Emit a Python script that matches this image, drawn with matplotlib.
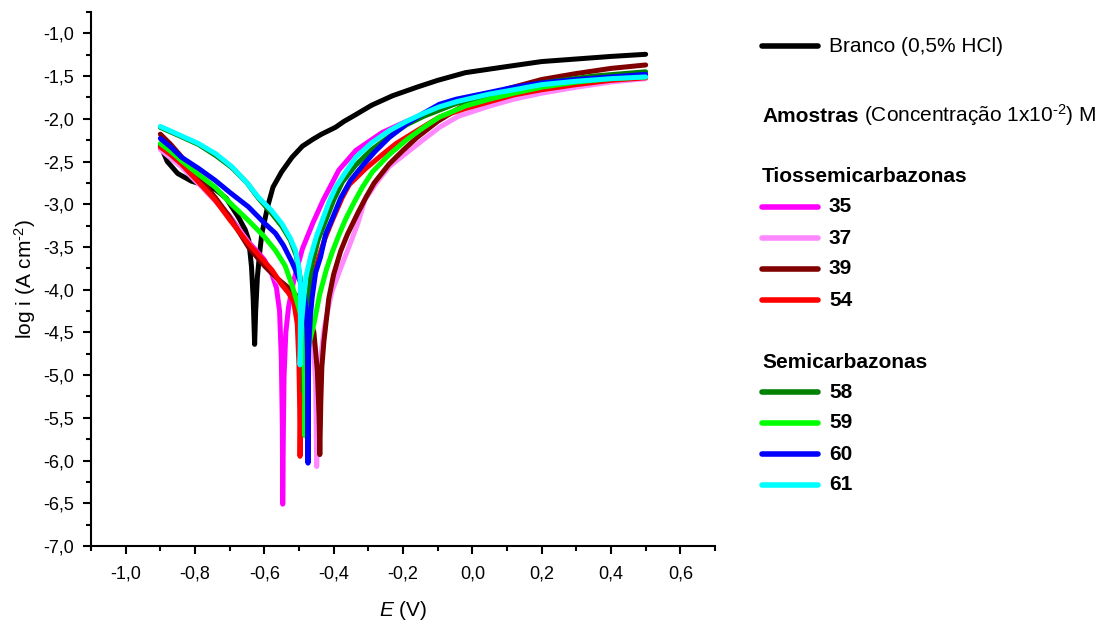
import matplotlib
matplotlib.use("Agg")
import matplotlib.pyplot as plt
from matplotlib.lines import Line2D
from matplotlib.ticker import MultipleLocator, FixedLocator

plt.rcParams['font.family'] = ['Liberation Sans', 'DejaVu Sans']
plt.rcParams['mathtext.fontset'] = 'custom'
plt.rcParams['mathtext.rm'] = 'Liberation Sans'
plt.rcParams['mathtext.it'] = 'Liberation Sans:italic'
plt.rcParams['mathtext.bf'] = 'Liberation Sans:bold'

# ---------------- data ----------------
E_branco = [-0.900, -0.880, -0.850, -0.810, -0.770, -0.740, -0.710, -0.675, -0.655, -0.645, -0.637, -0.632, -0.628,
            -0.625, -0.620, -0.613, -0.607, -0.590, -0.575, -0.550, -0.520, -0.490, -0.460, -0.435, -0.415, -0.395,
            -0.370, -0.340, -0.290, -0.230, -0.160, -0.100, -0.020, 0.080, 0.200, 0.300, 0.400, 0.500]
logi_branco = [-2.31, -2.50, -2.64, -2.73, -2.78, -2.83, -2.93, -3.15, -3.30, -3.42, -3.73, -4.12, -4.64,
               -4.25, -3.85, -3.55, -3.34, -3.02, -2.80, -2.62, -2.45, -2.32, -2.24, -2.18, -2.14, -2.10,
               -2.03, -1.96, -1.84, -1.73, -1.63, -1.55, -1.46, -1.40, -1.33, -1.30, -1.27, -1.245]

E_35 = [-0.900, -0.840, -0.780, -0.740, -0.700, -0.646, -0.600, -0.578, -0.565, -0.556, -0.551, -0.548, -0.547,
        -0.545, -0.543, -0.538, -0.530, -0.515, -0.490, -0.460, -0.430, -0.385, -0.336, -0.260, -0.190, -0.143,
        -0.046, 0.050, 0.200, 0.350, 0.500]
logi_35 = [-2.35, -2.55, -2.78, -2.96, -3.14, -3.44, -3.65, -3.82, -3.98, -4.25, -4.80, -5.60, -6.51,
           -5.60, -5.00, -4.50, -4.20, -3.89, -3.52, -3.22, -2.95, -2.60, -2.37, -2.16, -2.03, -1.95,
           -1.81, -1.72, -1.61, -1.55, -1.51]

E_37 = [-0.900, -0.840, -0.780, -0.740, -0.700, -0.646, -0.600, -0.560, -0.520, -0.490, -0.470, -0.458, -0.452,
        -0.449, -0.446, -0.443, -0.436, -0.428, -0.415, -0.404, -0.380, -0.356, -0.330, -0.310, -0.275, -0.240,
        -0.190, -0.143, -0.095, -0.040, 0.050, 0.120, 0.200, 0.300, 0.400, 0.500]
logi_37 = [-2.36, -2.56, -2.80, -2.97, -3.15, -3.45, -3.70, -3.90, -4.08, -4.22, -4.40, -4.65, -5.10,
           -6.07, -5.40, -5.06, -4.75, -4.47, -4.20, -4.01, -3.75, -3.50, -3.22, -2.95, -2.74, -2.56,
           -2.40, -2.25, -2.10, -1.97, -1.85, -1.77, -1.70, -1.63, -1.57, -1.53]

E_39 = [-0.900, -0.870, -0.840, -0.790, -0.740, -0.700, -0.646, -0.600, -0.568, -0.530, -0.500, -0.475, -0.457,
        -0.447, -0.442, -0.440, -0.437, -0.434, -0.428, -0.414, -0.400, -0.380, -0.360, -0.330, -0.307, -0.283,
        -0.240, -0.200, -0.160, -0.100, -0.040, 0.020, 0.100, 0.200, 0.300, 0.400, 0.500]
logi_39 = [-2.18, -2.30, -2.44, -2.68, -2.93, -3.15, -3.50, -3.72, -3.85, -3.98, -4.10, -4.25, -4.50,
           -4.95, -5.50, -5.93, -5.30, -4.90, -4.60, -4.10, -3.82, -3.55, -3.35, -3.10, -2.92, -2.75,
           -2.53, -2.37, -2.22, -2.03, -1.88, -1.76, -1.65, -1.54, -1.47, -1.41, -1.37]

E_54 = [-0.900, -0.870, -0.839, -0.790, -0.742, -0.700, -0.646, -0.600, -0.578, -0.550, -0.530, -0.515, -0.505,
        -0.500, -0.498, -0.497, -0.495, -0.492, -0.486, -0.472, -0.458, -0.443, -0.425, -0.404, -0.375, -0.355,
        -0.307, -0.260, -0.220, -0.160, -0.095, -0.020, 0.050, 0.120, 0.200, 0.300, 0.400, 0.500]
logi_54 = [-2.33, -2.42, -2.53, -2.74, -2.95, -3.18, -3.46, -3.67, -3.77, -3.94, -4.04, -4.15, -4.40,
           -4.90, -5.40, -5.95, -5.40, -5.00, -4.67, -4.09, -3.84, -3.62, -3.40, -3.19, -2.92, -2.77,
           -2.58, -2.42, -2.29, -2.14, -1.98, -1.88, -1.80, -1.72, -1.66, -1.60, -1.55, -1.52]

E_58 = [-0.900, -0.850, -0.790, -0.740, -0.694, -0.650, -0.617, -0.580, -0.549, -0.525, -0.508, -0.497, -0.490,
        -0.487, -0.486, -0.484, -0.480, -0.476, -0.462, -0.445, -0.423, -0.400, -0.375, -0.336, -0.290, -0.240,
        -0.190, -0.140, -0.046, 0.050, 0.200, 0.350, 0.500]
logi_58 = [-2.10, -2.19, -2.30, -2.43, -2.57, -2.75, -2.93, -3.10, -3.26, -3.42, -3.60, -3.85, -4.15,
           -4.60, -5.20, -4.70, -4.40, -4.20, -3.69, -3.42, -3.19, -2.95, -2.74, -2.54, -2.36, -2.21,
           -2.07, -1.97, -1.82, -1.72, -1.58, -1.50, -1.45]

E_59 = [-0.900, -0.870, -0.839, -0.790, -0.742, -0.700, -0.646, -0.600, -0.568, -0.540, -0.520, -0.505, -0.496,
        -0.490, -0.486, -0.484, -0.483, -0.481, -0.478, -0.470, -0.457, -0.440, -0.420, -0.404, -0.385, -0.365,
        -0.340, -0.317, -0.288, -0.240, -0.191, -0.140, -0.095, -0.020, 0.050, 0.120, 0.200, 0.300, 0.400, 0.500]
logi_59 = [-2.29, -2.38, -2.49, -2.65, -2.80, -2.98, -3.19, -3.38, -3.54, -3.72, -3.95, -4.15, -4.28,
           -4.45, -4.67, -5.10, -5.71, -5.20, -4.85, -4.62, -4.40, -4.05, -3.75, -3.56, -3.36, -3.17,
           -2.97, -2.80, -2.62, -2.42, -2.25, -2.10, -1.98, -1.85, -1.77, -1.70, -1.63, -1.57, -1.53, -1.51]

E_60 = [-0.900, -0.870, -0.839, -0.790, -0.742, -0.700, -0.646, -0.600, -0.568, -0.545, -0.530, -0.520, -0.505,
        -0.486, -0.478, -0.476, -0.475, -0.474, -0.473, -0.472, -0.467, -0.462, -0.452, -0.438, -0.423, -0.404,
        -0.380, -0.351, -0.317, -0.280, -0.240, -0.190, -0.143, -0.095, -0.046, 0.050, 0.120, 0.200, 0.300,
        0.400, 0.500]
logi_60 = [-2.23, -2.33, -2.45, -2.58, -2.72, -2.86, -3.03, -3.22, -3.34, -3.48, -3.60, -3.68, -3.82,
           -4.01, -4.30, -4.70, -5.30, -6.03, -5.30, -4.67, -4.30, -4.09, -3.80, -3.62, -3.35, -3.17,
           -2.93, -2.72, -2.55, -2.38, -2.22, -2.06, -1.94, -1.83, -1.77, -1.69, -1.63, -1.58, -1.54,
           -1.51, -1.48]

E_61 = [-0.900, -0.850, -0.790, -0.740, -0.694, -0.650, -0.617, -0.580, -0.549, -0.525, -0.510, -0.500, -0.496,
        -0.496, -0.497, -0.495, -0.493, -0.486, -0.480, -0.467, -0.450, -0.433, -0.414, -0.394, -0.365, -0.336,
        -0.290, -0.240, -0.190, -0.143, -0.095, -0.046, 0.050, 0.120, 0.200, 0.300, 0.400, 0.500]
logi_61 = [-2.09, -2.18, -2.29, -2.41, -2.56, -2.75, -2.92, -3.07, -3.23, -3.40, -3.54, -3.75, -3.93,
           -4.40, -4.88, -4.60, -4.40, -4.09, -3.85, -3.62, -3.38, -3.19, -2.98, -2.80, -2.62, -2.45,
           -2.28, -2.14, -2.03, -1.94, -1.86, -1.80, -1.71, -1.66, -1.60, -1.56, -1.53, -1.51]

legend_branco = "Branco (0,5% HCl)"
group_tio = "Tiossemicarbazonas"
group_semi = "Semicarbazonas"
labels_tio = ["35", "37", "39", "54"]
labels_semi = ["58", "59", "60", "61"]

x_ticks = [-1.0, -0.8, -0.6, -0.4, -0.2, 0.0, 0.2, 0.4, 0.6]
x_ticklabels = ["-1,0", "-0,8", "-0,6", "-0,4", "-0,2", "0,0", "0,2", "0,4", "0,6"]
y_ticks = [-7.0, -6.5, -6.0, -5.5, -5.0, -4.5, -4.0, -3.5, -3.0, -2.5, -2.0, -1.5, -1.0]
y_ticklabels = ["-7,0", "-6,5", "-6,0", "-5,5", "-5,0", "-4,5", "-4,0", "-3,5", "-3,0", "-2,5", "-2,0",
                "-1,5", "-1,0"]

# ---------------- styles ----------------
c_branco = "#000000"
colors_tio = ["#FF00FF", "#FF88FF", "#800000", "#FF0000"]
colors_semi = ["#008000", "#00FF00", "#0000FF", "#00FFFF"]

W, H = 1115, 628
fig = plt.figure(figsize=(W / 100, H / 100), dpi=100)
ax = fig.add_axes([91 / W, 1 - 546 / H, (715 - 91) / W, (546 - 12) / H])

lw = 3.6
kw = dict(lw=lw, solid_capstyle='round', solid_joinstyle='round')
ax.plot(E_branco, logi_branco, color=c_branco, **kw)
series_tio = [(E_35, logi_35), (E_37, logi_37), (E_39, logi_39), (E_54, logi_54)]
series_semi = [(E_58, logi_58), (E_59, logi_59), (E_60, logi_60), (E_61, logi_61)]
for (e, l), c in zip(series_tio, colors_tio):
    ax.plot(e, l, color=c, **kw)
for (e, l), c in zip(series_semi, colors_semi):
    ax.plot(e, l, color=c, **kw)

ax.set_xlim(-1.1, 0.7)
ax.set_ylim(-7.0, -0.75)
ax.xaxis.set_major_locator(FixedLocator(x_ticks))
ax.set_xticklabels(x_ticklabels)
ax.yaxis.set_major_locator(FixedLocator(y_ticks))
ax.set_yticklabels(y_ticklabels)
ax.xaxis.set_minor_locator(MultipleLocator(0.1))
ax.yaxis.set_minor_locator(MultipleLocator(0.25))

for s in ['top', 'right']:
    ax.spines[s].set_visible(False)
for s in ['left', 'bottom']:
    ax.spines[s].set_linewidth(1.5)
ax.tick_params(which='major', direction='out', length=6, width=1.5, labelsize=13)
ax.tick_params(axis='x', which='major', pad=8)
ax.tick_params(axis='y', which='major', pad=6)
ax.tick_params(which='minor', direction='out', length=3.5, width=1.5)

ax.set_xlabel(r"$\mathit{E}$ (V)", fontsize=15, labelpad=12)
ax.set_ylabel("log i (A cm$^{\u2010 2}$)", fontsize=15, labelpad=4)

# ---------------- legend (figure text) ----------------
def fx(px):
    return px / W

def fy(py):
    return 1 - py / H

lx0, lx1, tx = 762, 818, 829
fs = 15
fig.add_artist(Line2D([fx(lx0), fx(lx1)], [fy(46), fy(46)], transform=fig.transFigure,
                      color=c_branco, lw=4, solid_capstyle='round'))
fig.text(fx(tx), fy(46), legend_branco, fontsize=fs, va='center', ha='left')

t1 = fig.text(fx(lx0), fy(122), "Amostras", fontsize=fs, fontweight='bold', va='baseline', ha='left')
fig.canvas.draw()
bb = t1.get_window_extent()
fig.text(bb.x1 / W + 5 / W, fy(122), "(Concentração 1x10$^{\u2010 2}$) M", fontsize=fs,
         va='baseline', ha='left')

fig.text(fx(lx0), fy(177), group_tio, fontsize=fs, fontweight='bold', va='center', ha='left')
for lab, c, py in zip(labels_tio, colors_tio, [207, 238, 269, 300]):
    fig.add_artist(Line2D([fx(lx0), fx(lx1)], [fy(py), fy(py)], transform=fig.transFigure,
                          color=c, lw=4, solid_capstyle='round'))
    fig.text(fx(tx), fy(py), lab, fontsize=fs, fontweight='bold', va='center', ha='left')

fig.text(fx(lx0), fy(362), group_semi, fontsize=fs, fontweight='bold', va='center', ha='left')
for lab, c, py in zip(labels_semi, colors_semi, [392, 423, 454, 485]):
    fig.add_artist(Line2D([fx(lx0), fx(lx1)], [fy(py), fy(py)], transform=fig.transFigure,
                          color=c, lw=4, solid_capstyle='round'))
    fig.text(fx(tx), fy(py), lab, fontsize=fs, fontweight='bold', va='center', ha='left')

fig.savefig("out.png", dpi=100)
